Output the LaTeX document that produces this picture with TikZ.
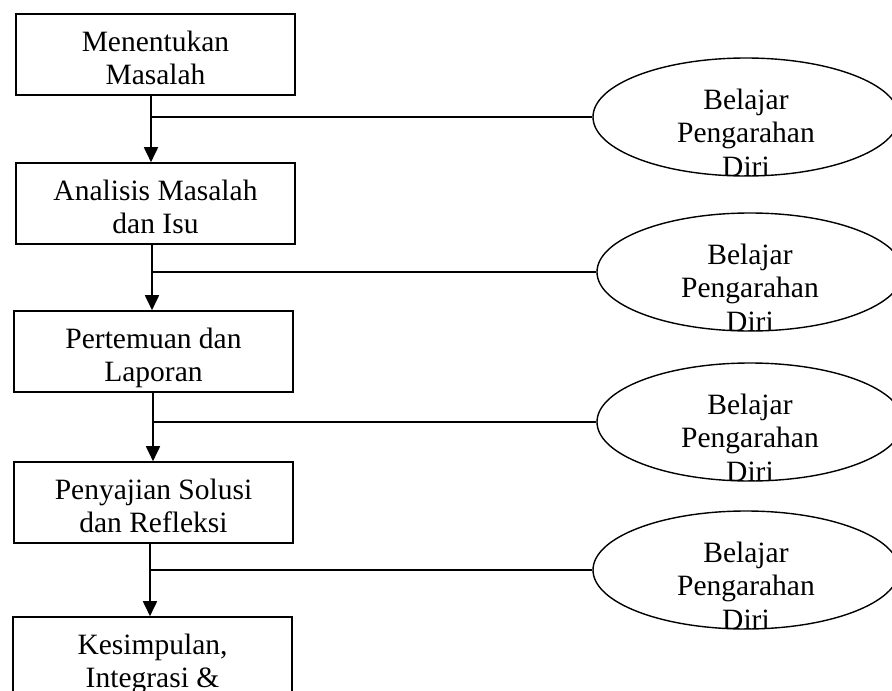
\documentclass[tikz,border=0pt]{standalone}
\usepackage{fontspec}
\setmainfont{Liberation Serif}
\usetikzlibrary{shapes.geometric,arrows.meta}
\begin{document}
\begin{tikzpicture}[x=1pt,y=-1pt,
	stepbox/.style={draw,line width=1.6pt,minimum width=279pt,minimum height=81pt,inner sep=0pt},
	oval/.style={draw,ellipse,line width=1.4pt,minimum width=306pt,minimum height=118pt,inner sep=0pt},
	txt/.style={align=center,inner sep=0pt,font=\fontsize{29.5}{33.5}\selectfont,execute at begin node=\strut,execute at end node=\strut},
	arr/.style={line width=1.8pt,-{Triangle[width=14pt,length=15pt]}},
	link/.style={line width=1.3pt}]
		\useasboundingbox (0,0) rectangle (892,691);
		\clip (0,0) rectangle (892,691);
		% langkah
		\node[stepbox] (m1) at (155.5,54.5) {};
		\node[txt] (t1) at ([yshift=-8.5pt]m1.center) {Menentukan\\Masalah};
		\node[stepbox] (m2) at (155.5,203.5) {};
		\node[txt] (t2) at ([yshift=-8.5pt]m2.center) {Analisis Masalah\\dan Isu};
		\node[stepbox] (m3) at (153.5,351.5) {};
		\node[txt] (t3) at ([yshift=-8.5pt]m3.center) {Pertemuan dan\\Laporan};
		\node[stepbox] (m4) at (153.5,502.5) {};
		\node[txt] (t4) at ([yshift=-8.5pt]m4.center) {Penyajian Solusi\\dan Refleksi};
		\node[stepbox] (m5) at (152.5,657.5) {};
		\node[txt] (t5) at ([yshift=-8.5pt]m5.center) {Kesimpulan,\\Integrasi \&};
		% belajar pengarahan diri
		\node[oval] (e1) at (746,117) {};
		\node[txt] (s1) at ([yshift=-20.5pt]e1.center) {Belajar\\Pengarahan\\Diri};
		\node[oval] (e2) at (750,272) {};
		\node[txt] (s2) at ([yshift=-20.5pt]e2.center) {Belajar\\Pengarahan\\Diri};
		\node[oval] (e3) at (750,422) {};
		\node[txt] (s3) at ([yshift=-20.5pt]e3.center) {Belajar\\Pengarahan\\Diri};
		\node[oval] (e4) at (746,570) {};
		\node[txt] (s4) at ([yshift=-20.5pt]e4.center) {Belajar\\Pengarahan\\Diri};
		% panah dan garis
		\coordinate (j1) at (151,117);
		\coordinate (j2) at (152,272);
		\coordinate (j3) at (153,422);
		\coordinate (j4) at (150,570);
		\draw[arr] (m1.south -| j1) -- (m2.north -| j1);
		\draw[arr] (m2.south -| j2) -- (m3.north -| j2);
		\draw[arr] (m3.south -| j3) -- (m4.north -| j3);
		\draw[arr] (m4.south -| j4) -- (m5.north -| j4);
		\draw[link] (j1) -- (e1.west);
		\draw[link] (j2) -- (e2.west);
		\draw[link] (j3) -- (e3.west);
		\draw[link] (j4) -- (e4.west);
	\end{tikzpicture}
\end{document}
